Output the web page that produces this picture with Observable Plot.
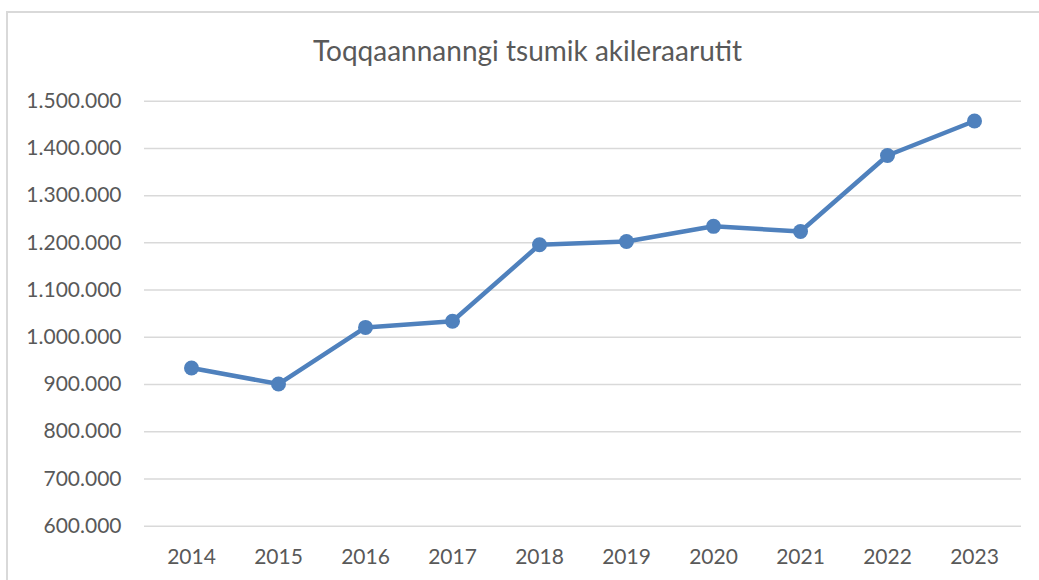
<!DOCTYPE html>
<html>
<head>
<meta charset="utf-8">
<script src="https://cdn.jsdelivr.net/npm/d3@7"></script>
<script src="https://cdn.jsdelivr.net/npm/@observablehq/plot@0.6"></script>
<style>
  html, body { margin: 0; padding: 0; background: #fff; }
  #wrap { position: relative; width: 1039px; height: 580px; overflow: hidden; font-family: Lato, "Open Sans", sans-serif; }
  #frame { position: absolute; left: 6px; top: 11px; width: 1100px; height: 700px; border: 2px solid #d9d9d9; box-sizing: border-box; }
  #title { position: absolute; left: 0; width: 1055px; top: 33px; text-align: center; font-size: 28px; color: #595959; font-family: Lato, sans-serif; white-space: nowrap; }
  #chart { position: absolute; left: 0; top: 0; }
</style>
</head>
<body>
<div id="wrap">
  <div id="frame"></div>
  <div id="title">Toqqaannanngi tsumik akileraarutit</div>
  <div id="chart"></div>
</div>
<script>
const years = ["2014","2015","2016","2017","2018","2019","2020","2021","2022","2023"];
const values = [935000, 901000, 1021000, 1034000, 1196000, 1203000, 1235000, 1224000, 1385000, 1458000];
const yTicks = [600000, 700000, 800000, 900000, 1000000, 1100000, 1200000, 1300000, 1400000, 1500000];

const data = years.map((y, i) => ({year: y, value: values[i]}));
const fmt = v => d3.format(",")(v).replace(/,/g, ".");
const blue = "#4f81bd";

const plot = Plot.plot({
  width: 1039,
  height: 580,
  marginLeft: 144,
  marginRight: 18,
  marginTop: 100.7,
  marginBottom: 54.3,
  style: {fontFamily: "Lato, sans-serif", fontSize: "21px", color: "#595959", background: "transparent"},
  x: {type: "point", domain: years, padding: 0.5, label: null},
  y: {domain: [600000, 1500000], label: null},
  marks: [
    Plot.ruleY(yTicks, {stroke: "#d9d9d9", strokeWidth: 1.5}),
    Plot.axisY(yTicks, {tickSize: 0, tickPadding: 23, tickFormat: fmt, fontSize: 21, fill: "#595959"}),
    Plot.axisX({tickSize: 0, tickPadding: 23, fontSize: 21, fill: "#595959"}),
    Plot.line(data, {x: "year", y: "value", stroke: blue, strokeWidth: 4.5, strokeLinejoin: "round"}),
    Plot.dot(data, {x: "year", y: "value", r: 7.5, fill: blue, stroke: "none"})
  ]
});
document.getElementById("chart").appendChild(plot);
</script>
</body>
</html>
